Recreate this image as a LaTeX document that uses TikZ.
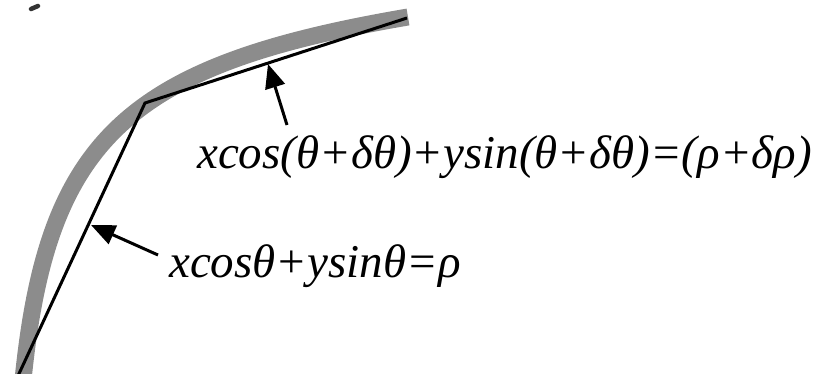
\documentclass[tikz,border=0pt]{standalone}
\usepackage{fontspec}
\setmainfont{Liberation Serif}
\usetikzlibrary{arrows.meta}
\definecolor{arcgray}{RGB}{140,140,140}
\begin{document}
\begin{tikzpicture}[x=1pt,y=-1pt,
  arcline/.style={line width=17pt, draw=arcgray},
  seg/.style={line width=3pt, line join=miter},
  lbl/.style={font=\fontsize{47}{47}\selectfont\itshape, inner sep=0pt, anchor=base west},
  ptr/.style={line width=3pt, -{Triangle[length=24pt,width=20pt]}}]
\useasboundingbox (0,0) rectangle (814,374);
\begin{scope}
\clip (0,0) rectangle (814,374);
\coordinate (a0) at (23,380);
\coordinate (c1) at (47,140);
\coordinate (c2) at (126,65);
\coordinate (a3) at (408,17);
\draw[arcline] (a0) .. controls (c1) and (c2) .. (a3);
\coordinate (p0) at (17,378);
\coordinate (k) at (145,103);
\coordinate (p2) at (407,18);
\draw[seg] (p0) -- (k) -- (p2);
\end{scope}
\draw[line width=4.5pt, line cap=round, black!80] (31,9) -- (38,6);
\coordinate (t1) at (287,125);
\coordinate (h1) at (268,64);
\coordinate (t2) at (158,255);
\coordinate (h2) at (91,225);
\draw[ptr] (t1) -- (h1);
\draw[ptr] (t2) -- (h2);
\node[lbl] (e1) at (197,169) {xcos(θ+δθ)+ysin(θ+δθ)=(ρ+δρ)};
\node[lbl] (e2) at (169,277) {xcosθ+ysinθ=ρ};
\end{tikzpicture}
\end{document}
